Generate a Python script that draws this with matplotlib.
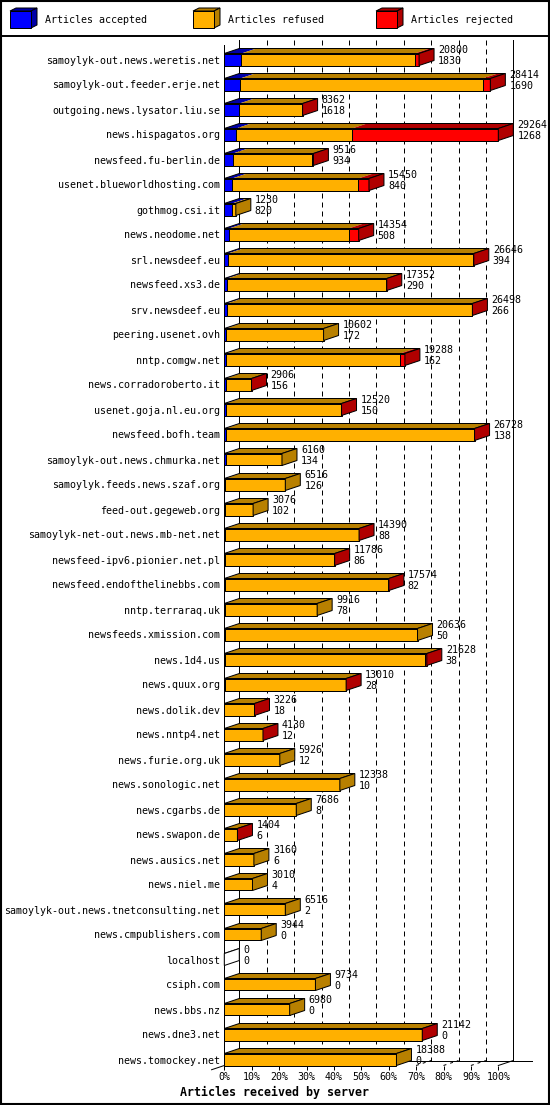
import numpy as np
import matplotlib
matplotlib.use('Agg')
import matplotlib.pyplot as plt
from matplotlib.patches import Polygon, Rectangle

hosts = [
    'samoylyk-out.news.weretis.net', 'samoylyk-out.feeder.erje.net',
    'outgoing.news.lysator.liu.se', 'news.hispagatos.org',
    'newsfeed.fu-berlin.de', 'usenet.blueworldhosting.com', 'gothmog.csi.it',
    'news.neodome.net', 'srl.newsdeef.eu', 'newsfeed.xs3.de', 'srv.newsdeef.eu',
    'peering.usenet.ovh', 'nntp.comgw.net', 'news.corradoroberto.it',
    'usenet.goja.nl.eu.org', 'newsfeed.bofh.team',
    'samoylyk-out.news.chmurka.net', 'samoylyk.feeds.news.szaf.org',
    'feed-out.gegeweb.org', 'samoylyk-net-out.news.mb-net.net',
    'newsfeed-ipv6.pionier.net.pl', 'newsfeed.endofthelinebbs.com',
    'nntp.terraraq.uk', 'newsfeeds.xmission.com', 'news.1d4.us',
    'news.quux.org', 'news.dolik.dev', 'news.nntp4.net', 'news.furie.org.uk',
    'news.sonologic.net', 'news.cgarbs.de', 'news.swapon.de',
    'news.ausics.net', 'news.niel.me', 'samoylyk-out.news.tnetconsulting.net',
    'news.cmpublishers.com', 'localhost', 'csiph.com', 'news.bbs.nz',
    'news.dne3.net', 'news.tomockey.net',
]
# articles offered (upper number)
totals = [20800, 28414, 8362, 29264, 9516, 15450, 1230, 14354, 26646, 17352,
          26498, 10602, 19288, 2906, 12520, 26728, 6160, 6516, 3076, 14390,
          11786, 17574, 9916, 20636, 21628, 13010, 3226, 4130, 5926, 12338,
          7686, 1404, 3160, 3010, 6516, 3944, 0, 9734, 6980, 21142, 18388]
# articles accepted (lower number)
accepted = [1830, 1690, 1618, 1268, 934, 840, 820, 508, 394, 290, 266, 172,
            162, 156, 150, 138, 134, 126, 102, 88, 86, 82, 78, 50, 38, 28, 18,
            12, 12, 10, 8, 6, 6, 4, 2, 0, 0, 0, 0, 0, 0]
# rejected
rejected = [470, 815, 100, 15624, 120, 1135, 0, 1070, 60, 30, 80, 0, 500, 30,
            40, 50, 0, 0, 0, 30, 30, 40, 0, 0, 150, 30, 20, 20, 0, 0, 0, 10, 0,
            0, 0, 0, 0, 0, 0, 20, 0]
refused = [t - a - r for t, a, r in zip(totals, accepted, rejected)]

series_names = ['Articles accepted', 'Articles refused', 'Articles rejected']
face_colors = ['#0000ff', '#ffb000', '#ff0000']
dark_colors = ['#0000a8', '#b88000', '#b00000']
pct_ticks = list(range(0, 101, 10))

MONO = 'DejaVu Sans Mono'
FS = 7.2
LW = 0.72

W, HP = 550, 1105
fig = plt.figure(figsize=(W / 100, HP / 100), dpi=100)

# background axes in pixels: frame, legend, title
bg = fig.add_axes([0, 0, 1, 1])
bg.set_xlim(0, W)
bg.set_ylim(HP, 0)
bg.axis('off')
bg.add_patch(Rectangle((0.8, 0.8), W - 1.6, HP - 1.6, fill=False, ec='black', lw=1.5))
bg.plot([0, W], [35.5, 35.5], color='black', lw=1.4)

leg_x = [10, 193, 376]
for lx, name, fc, dc in zip(leg_x, series_names, face_colors, dark_colors):
    bg.add_patch(Polygon([(lx, 11), (lx + 6, 8), (lx + 27, 8), (lx + 21, 11)],
                         closed=True, fc=dc, ec='black', lw=LW))
    bg.add_patch(Polygon([(lx + 21, 11), (lx + 27, 8), (lx + 27, 25), (lx + 21, 28)],
                         closed=True, fc=dc, ec='black', lw=LW))
    bg.add_patch(Rectangle((lx, 11), 21, 17, fc=fc, ec='black', lw=LW))
    bg.text(lx + 35, 20, name, family=MONO, fontsize=FS, va='center', ha='left')

bg.text(W / 2, 1092, 'Articles received by server', family=MONO, fontsize=8.4,
        fontweight='bold', ha='center', va='center')

# main plot: x in percent of the biggest total, y in rows
n = len(hosts)
H = 0.24                       # half height of the front face (rows)
x_left, x_right = 224.3, 498.3
y_top, y_bot = 47.0, 1065.5
ax = fig.add_axes([x_left / W, 1 - y_bot / HP, (x_right - x_left) / W, (y_bot - y_top) / HP])
ax.set_xlim(0, 100)
ax.set_ylim(n - 1 + H, -0.5)
ax.patch.set_visible(False)
for s in ax.spines.values():
    s.set_visible(False)

px_x = (x_right - x_left) / 100.0
px_y = (y_bot - y_top) / (n - 1 + H + 0.5)
DX = 15 / px_x
DY = -5 / px_y

floor_front = n - 1 + H
floor_back = floor_front + DY
top_back = (40 - 59.5) / px_y
top_front = (45 - 59.5) / px_y

# walls and grid
ax.plot([0, 0], [top_front, floor_front], color='black', lw=LW, clip_on=False, zorder=1)
ax.plot([DX, DX], [top_back, floor_back], color='black', lw=LW, clip_on=False, zorder=1)
ax.plot([100 + DX, 100 + DX], [top_back, floor_back], color='black', lw=LW, clip_on=False, zorder=1)
for p in pct_ticks[1:-1]:
    ax.plot([p + DX, p + DX], [top_back, floor_back], color='black', lw=LW,
            ls=(0, (5, 4)), clip_on=False, zorder=1)
    ax.plot([p, p + DX], [floor_front, floor_back], color='black', lw=LW,
            ls=(0, (3, 4)), clip_on=False, zorder=1)
ax.plot([DX, 100 + DX + 19 / px_x], [floor_back, floor_back], color='black', lw=LW,
        clip_on=False, zorder=1)
ax.plot([100, 100 + DX], [floor_front, floor_back], color='black', lw=LW, clip_on=False, zorder=1)
t0 = -0.85
ax.plot([t0 * DX, DX], [floor_front + t0 * DY, floor_back], color='black', lw=LW,
        clip_on=False, zorder=1)

maxtot = max(totals)
for i in range(n):
    vals = [accepted[i], refused[i], rejected[i]]
    yt, yb = i - H, i + H
    cum = 0.0
    side_color = 'white'
    for v, fc, dc in zip(vals, face_colors, dark_colors):
        if v <= 0:
            continue
        w = v / maxtot * 100
        ax.add_patch(Polygon([(cum, yt), (cum + w, yt), (cum + w + DX, yt + DY), (cum + DX, yt + DY)],
                             closed=True, fc=dc, ec='none', clip_on=False, zorder=2))
        ax.add_patch(Rectangle((cum, yt), w, 2 * H, fc=fc, ec='black', lw=LW,
                               clip_on=False, zorder=3))
        cum += w
        side_color = dc
    end = totals[i] / maxtot * 100
    ax.add_patch(Polygon([(0, yt), (end, yt), (end + DX, yt + DY), (DX, yt + DY)],
                         closed=True, fill=False, ec='black', lw=LW, clip_on=False, zorder=3))
    ax.add_patch(Polygon([(end, yt), (end + DX, yt + DY), (end + DX, yb + DY), (end, yb)],
                         closed=True, fc=side_color, ec='black', lw=LW, clip_on=False, zorder=3))
    tx = end + DX + 4 / px_x
    ax.text(tx, i - 9.5 / px_y, str(totals[i]), family=MONO, fontsize=FS,
            ha='left', va='center', zorder=4)
    ax.text(tx, i + 1.3 / px_y, str(accepted[i]), family=MONO, fontsize=FS,
            ha='left', va='center', zorder=4)

ax.set_yticks(range(n))
ax.set_yticklabels(hosts, family=MONO, fontsize=FS)
ax.tick_params(axis='y', length=0, pad=3.1)
ax.set_xticks(pct_ticks)
ax.set_xticklabels([f'{p}%' for p in pct_ticks], family=MONO, fontsize=FS)
ax.tick_params(axis='x', direction='out', length=2.9, width=LW, pad=1.5)

fig.savefig('out.png', dpi=100)
